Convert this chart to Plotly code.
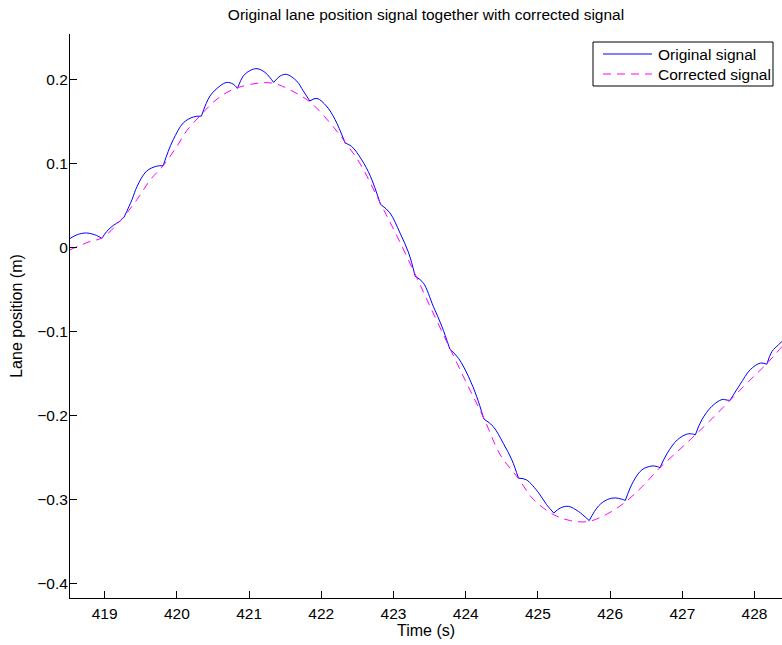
import plotly.graph_objects as go

# Original (uncorrected) signal: arcs between cusps, None separates arcs
orig_t = [418.52, 418.62, 418.75, 418.89, 418.96, None,
          418.96, 419.03, 419.12, 419.21, 419.27, None,
          419.27, 419.38, 419.45, 419.58, 419.72, 419.81, None,
          419.81, 419.88, 419.95, 420.09, 420.23, 420.34, None,
          420.34, 420.46, 420.60, 420.69, 420.78, 420.84, None,
          420.84, 420.92, 421.01, 421.11, 421.22, 421.29, 421.34, None,
          421.34, 421.43, 421.52, 421.66, 421.75, 421.84, None,
          421.84, 421.94, 422.07, 422.19, 422.33, None,
          422.33, 422.42, 422.56, 422.68, 422.82, None,
          422.82, 422.95, 423.09, 423.21, 423.30, None,
          423.30, 423.41, 423.55, 423.67, 423.78, None,
          423.78, 423.90, 424.04, 424.15, 424.25, None,
          424.25, 424.38, 424.52, 424.64, 424.73, None,
          424.73, 424.84, 425.01, 425.12, 425.22, None,
          425.22, 425.31, 425.42, 425.56, 425.71, None,
          425.71, 425.84, 425.96, 426.07, 426.16, 426.21, None,
          426.21, 426.32, 426.44, 426.58, 426.65, 426.69, None,
          426.69, 426.79, 426.93, 427.07, 427.14, 427.18, None,
          427.18, 427.27, 427.41, 427.55, 427.62, 427.66, None,
          427.66, 427.80, 427.94, 428.08, 428.17, None,
          428.17, 428.24, 428.33, 428.38]
orig_v = [0.0104, 0.015, 0.017, 0.014, 0.0105, None,
          0.0105, 0.019, 0.026, 0.031, 0.036, None,
          0.036, 0.057, 0.0726, 0.0905, 0.0964, 0.097, None,
          0.097, 0.114, 0.128, 0.148, 0.155, 0.156, None,
          0.156, 0.180, 0.192, 0.196, 0.194, 0.189, None,
          0.189, 0.2036, 0.210, 0.2124, 0.208, 0.2017, 0.196, None,
          0.196, 0.2036, 0.2056, 0.1976, 0.186, 0.174, None,
          0.174, 0.177, 0.168, 0.152, 0.124, None,
          0.124, 0.120, 0.104, 0.0845, 0.051, None,
          0.051, 0.041, 0.017, -0.0067, -0.0345, None,
          -0.0345, -0.042, -0.070, -0.094, -0.121, None,
          -0.121, -0.132, -0.154, -0.177, -0.204, None,
          -0.204, -0.213, -0.233, -0.253, -0.2745, None,
          -0.2745, -0.2765, -0.292, -0.306, -0.316, None,
          -0.316, -0.310, -0.308, -0.314, -0.325, None,
          -0.325, -0.3075, -0.300, -0.298, -0.2995, -0.301, None,
          -0.301, -0.2786, -0.2646, -0.260, -0.2607, -0.262, None,
          -0.262, -0.245, -0.229, -0.222, -0.222, -0.223, None,
          -0.223, -0.205, -0.189, -0.181, -0.1817, -0.182, None,
          -0.182, -0.163, -0.1456, -0.1377, -0.139, None,
          -0.139, -0.124, -0.116, -0.112]

# Corrected signal
corr_t = [418.52, 418.80, 418.96, 419.21, 419.45, 419.63, 419.81, 420.00,
          420.14, 420.34, 420.51, 420.69, 420.85, 421.11, 421.34, 421.57,
          421.84, 422.12, 422.33, 422.54, 422.82, 423.05, 423.30, 423.51,
          423.78, 424.02, 424.25, 424.48, 424.73, 424.94, 425.22, 425.45,
          425.70, 425.96, 426.21, 426.45, 426.69, 426.93, 427.18, 427.42,
          427.66, 427.90, 428.15, 428.38]
corr_v = [-0.003, 0.007, 0.011, 0.031, 0.057, 0.080, 0.097, 0.120,
          0.139, 0.158, 0.173, 0.184, 0.190, 0.195, 0.195, 0.187,
          0.173, 0.148, 0.125, 0.099, 0.052, 0.013, -0.032, -0.071,
          -0.120, -0.163, -0.203, -0.247, -0.275, -0.300, -0.318, -0.325,
          -0.326, -0.317, -0.303, -0.284, -0.262, -0.243, -0.223, -0.203,
          -0.182, -0.161, -0.140, -0.118]

x_ticks = [419, 420, 421, 422, 423, 424, 425, 426, 427, 428]
y_ticks = [-0.4, -0.3, -0.2, -0.1, 0, 0.1, 0.2]
y_tick_text = ["\u22120.4", "\u22120.3", "\u22120.2", "\u22120.1", "0", "0.1", "0.2"]
series_names = ["Original signal", "Corrected signal"]
series_colors = ["#0000ff", "#ff00ff"]

FONT = "Liberation Sans, Arial, Helvetica, sans-serif"
W, H = 782, 645
ML, MR, MT, MB = 70, 0, 34, 47
PW, PH = W - ML - MR, H - MT - MB


def px(xp):
    return (xp - ML) / PW


def py(yp):
    return (H - MB - yp) / PH


fig = go.Figure()
fig.add_trace(go.Scatter(x=orig_t, y=orig_v, mode="lines", name=series_names[0],
                         line=dict(color=series_colors[0], width=1, shape="spline", smoothing=1),
                         connectgaps=False))
fig.add_trace(go.Scatter(x=corr_t, y=corr_v, mode="lines", name=series_names[1],
                         line=dict(color=series_colors[1], width=1, dash="8px,6px", shape="spline")))

# Legend drawn in MATLAB style (box, line samples, labels)
shapes = [
    dict(type="rect", xref="paper", yref="paper", x0=px(593), x1=px(773), y0=py(86), y1=py(42),
         line=dict(color="black", width=1), fillcolor="white", layer="above"),
    dict(type="line", xref="paper", yref="paper", x0=px(603), x1=px(652), y0=py(54), y1=py(54),
         line=dict(color=series_colors[0], width=1), layer="above"),
    dict(type="line", xref="paper", yref="paper", x0=px(603), x1=px(652), y0=py(74), y1=py(74),
         line=dict(color=series_colors[1], width=1, dash="8px,6px"), layer="above"),
]
annotations = [
    dict(text=series_names[0], xref="paper", yref="paper", x=px(656), y=py(54),
         xanchor="left", yanchor="middle", showarrow=False, font=dict(size=15.5, family=FONT)),
    dict(text=series_names[1], xref="paper", yref="paper", x=px(656), y=py(74),
         xanchor="left", yanchor="middle", showarrow=False, font=dict(size=15.5, family=FONT)),
]

fig.update_layout(
    width=W, height=H,
    margin=dict(l=ML, r=MR, t=MT, b=MB),
    paper_bgcolor="white", plot_bgcolor="white",
    font=dict(family=FONT, size=15.5, color="black"),
    title=dict(text="Original lane position signal together with corrected signal",
               x=0.5, xref="paper", y=1 - 15 / H, yref="container",
               xanchor="center", yanchor="middle",
               font=dict(size=15.5, family=FONT)),
    showlegend=False,
    shapes=shapes,
    annotations=annotations,
    xaxis=dict(range=[418.52, 428.38], tickvals=x_ticks, ticks="inside", ticklen=7,
               tickcolor="black", showline=True, linecolor="black", linewidth=1,
               showgrid=False, zeroline=False, mirror=False, ticklabelstandoff=1,
               title=dict(text="Time (s)", standoff=1, font=dict(size=16)),
               tickfont=dict(size=15.5)),
    yaxis=dict(range=[-0.417, 0.2536], tickvals=y_ticks, ticktext=y_tick_text,
               ticks="inside", ticklen=7, tickcolor="black",
               showline=True, linecolor="black", linewidth=1,
               showgrid=False, zeroline=False, mirror=False, ticklabelstandoff=-2,
               title=dict(text="Lane position (m)", standoff=10, font=dict(size=16)),
               tickfont=dict(size=15.5)),
)

fig.write_html("out.html")
